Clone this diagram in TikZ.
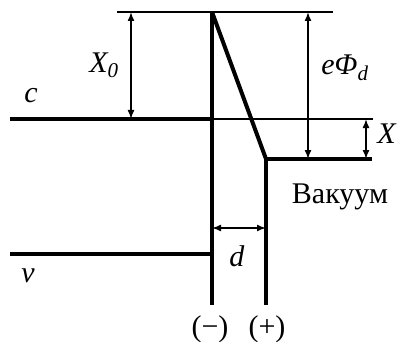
\documentclass[tikz,border=0pt]{standalone}
\usepackage{fontspec}
\setmainfont{Liberation Serif}
\usetikzlibrary{arrows.meta}

\begin{document}
\begin{tikzpicture}[x=1pt, y=-1pt, every node/.style={font=\fontsize{30}{34}\selectfont, inner sep=0pt}, >={Latex[length=9pt,width=7pt]},
	level/.style={line width=4pt}, guide/.style={line width=1.2pt}, dim/.style={<->, line width=1.5pt}]
	\useasboundingbox (0,0) rectangle (401,342);
	% key points
	\coordinate (topL) at (117,12);
	\coordinate (topR) at (333,12);
	\coordinate (cathTop) at (212,12);
	\coordinate (cathBot) at (212,305);
	\coordinate (anodeTop) at (266,159);
	\coordinate (anodeBot) at (266,305);
	\coordinate (cL) at (10,119);
	\coordinate (cM) at (212,119);
	\coordinate (cR) at (373,119);
	\coordinate (vacR) at (372,159);
	\coordinate (vL) at (10,254);
	\coordinate (vR) at (212,254);
	% levels and electrodes
	\draw[guide] (topL) -- (topR);
	\draw[guide] (cM) -- (cR);
	\draw[level] (cL) -- (cM);
	\draw[level] (vL) -- (vR);
	\draw[level] (cathTop) -- (cathBot);
	\draw[level] (anodeBot) -- (anodeTop) -- (vacR);
	\draw[level] (cathTop) -- (anodeTop);
	% dimensions
	\draw[dim] (131,12) -- (131,119);
	\draw[dim] (308,12) -- (308,159);
	\draw[dim] (366,119) -- (366,159);
	\draw[dim] (212,228) -- (266,228);
	% labels
	\node (lX0) at (104,65) {\textit{X\textsubscript{0}}};
	\node (lc) at (31,96) {\textit{c}};
	\node (lv) at (28,276) {\textit{v}};
	\node (lePhi) at (345,68) {\textit{eΦ\textsubscript{d}}};
	\node (lX) at (387,134) {\textit{X}};
	\node (ld) at (237,256) {\textit{d}};
	\node (lvac) at (340,197) {Вакуум};
	\node (lminus) at (210,329) {(−)};
	\node (lplus) at (267,329) {(+)};
\end{tikzpicture}
\end{document}
